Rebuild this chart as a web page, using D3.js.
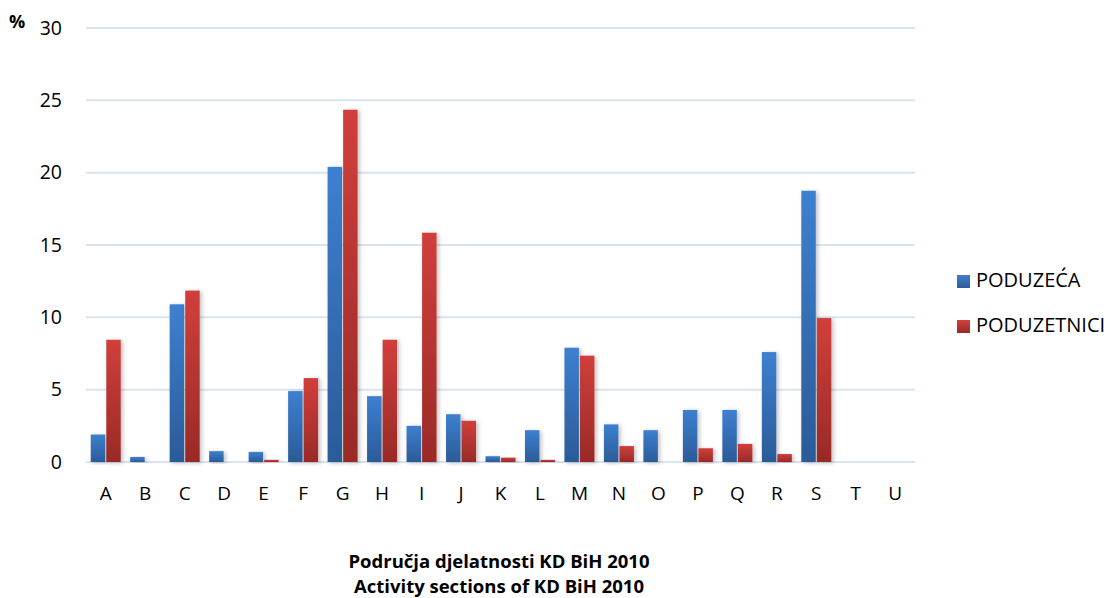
<!DOCTYPE html>
<html>
<head>
<meta charset="utf-8">
<script src="https://cdn.jsdelivr.net/npm/d3@7"></script>
<style>
  body { margin: 0; background: #fff; }
  svg, svg text { font-family: "Open Sans", Lato, sans-serif; }
</style>
</head>
<body>
<svg id="chart"></svg>
<script>
const categories = ["A","B","C","D","E","F","G","H","I","J","K","L","M","N","O","P","Q","R","S","T","U"];
const poduzeca    = [1.9,0.35,10.9,0.75,0.7,4.9,20.4,4.55,2.5,3.3,0.4,2.2,7.9,2.6,2.2,3.6,3.6,7.6,18.75,0,0];
const poduzetnici = [8.45,0,11.85,0,0.15,5.8,24.35,8.45,15.85,2.85,0.3,0.15,7.35,1.1,0,0.95,1.25,0.55,9.95,0,0];
const seriesNames = ["PODUZEĆA","PODUZETNICI"];
const yTicks = [0,5,10,15,20,25,30];
const titleLines = ["Područja djelatnosti KD BiH 2010","Activity sections of KD BiH 2010"];

const width = 1110, height = 598;
const m = {left: 86, right: 195, top: 28, bottom: 136};

const svg = d3.select("#chart").attr("width", width).attr("height", height);

const defs = svg.append("defs");
const grads = [["gBlue","#3d80d0","#2b5b98"],["gRed","#d13f3b","#992a27"]];
grads.forEach(([id,top,bot])=>{
  const g = defs.append("linearGradient").attr("id",id).attr("x1",0).attr("y1",0).attr("x2",0).attr("y2",1);
  g.append("stop").attr("offset","0%").attr("stop-color",top);
  g.append("stop").attr("offset","100%").attr("stop-color",bot);
});
const f = defs.append("filter").attr("id","shadow").attr("x","-50%").attr("y","-10%").attr("width","200%").attr("height","120%");
f.append("feDropShadow").attr("dx",2).attr("dy",1).attr("stdDeviation",2).attr("flood-color","#000").attr("flood-opacity",0.25);

const x = d3.scaleBand().domain(categories).range([m.left, width-m.right]).paddingInner(0.24).paddingOuter(0.12);
const xs = d3.scaleBand().domain(seriesNames).range([0, x.bandwidth()]).paddingInner(0.07);
const y = d3.scaleLinear().domain([0,30]).range([height-m.bottom, m.top]);

// gridlines
svg.append("g").selectAll("line").data(yTicks).enter().append("line")
  .attr("x1", m.left).attr("x2", width-m.right)
  .attr("y1", d=>y(d)).attr("y2", d=>y(d))
  .attr("stroke","#d9e3f1").attr("stroke-width",2);

// y axis
const yAxis = d3.axisLeft(y).tickValues(yTicks).tickSize(0).tickPadding(24);
svg.append("g").attr("transform",`translate(${m.left},0)`).call(yAxis)
  .attr("font-family",null)
  .call(g=>g.select(".domain").remove())
  .selectAll("text").style("font-size","19.5px").attr("fill","#000");

svg.append("text").attr("x",9).attr("y",28).text("%")
  .style("font-size","18px").style("font-weight","bold");

// bars
const data = [poduzeca, poduzetnici];
const fills = ["url(#gBlue)","url(#gRed)"];
data.forEach((vals,si)=>{
  svg.append("g").selectAll("rect").data(vals).enter().append("rect")
    .attr("x",(d,i)=>x(categories[i])+xs(seriesNames[si]))
    .attr("width",xs.bandwidth())
    .attr("y",d=>y(d))
    .attr("height",d=>y(0)-y(d))
    .attr("fill",fills[si])
    .attr("filter", d=>d>0 ? "url(#shadow)" : null);
});

// x axis
const xAxis = d3.axisBottom(x).tickSize(0).tickPadding(25);
svg.append("g").attr("transform",`translate(0,${y(0)})`).call(xAxis)
  .attr("font-family",null)
  .call(g=>g.select(".domain").remove())
  .selectAll("text").style("font-size","19px").attr("fill","#000");

// legend
const leg = svg.append("g");
seriesNames.forEach((n,i)=>{
  const base = 287 + i*45;
  leg.append("rect").attr("x",957).attr("y",base-12).attr("width",13).attr("height",13).attr("fill",fills[i]);
  leg.append("text").attr("x",976).attr("y",base).text(n).style("font-size","20px");
});

// title
svg.append("g").selectAll("text").data(titleLines).enter().append("text")
  .attr("x",499).attr("y",(d,i)=>568+i*25).attr("text-anchor","middle")
  .text(d=>d).style("font-size","18.5px").style("font-weight","bold");
</script>
</body>
</html>
